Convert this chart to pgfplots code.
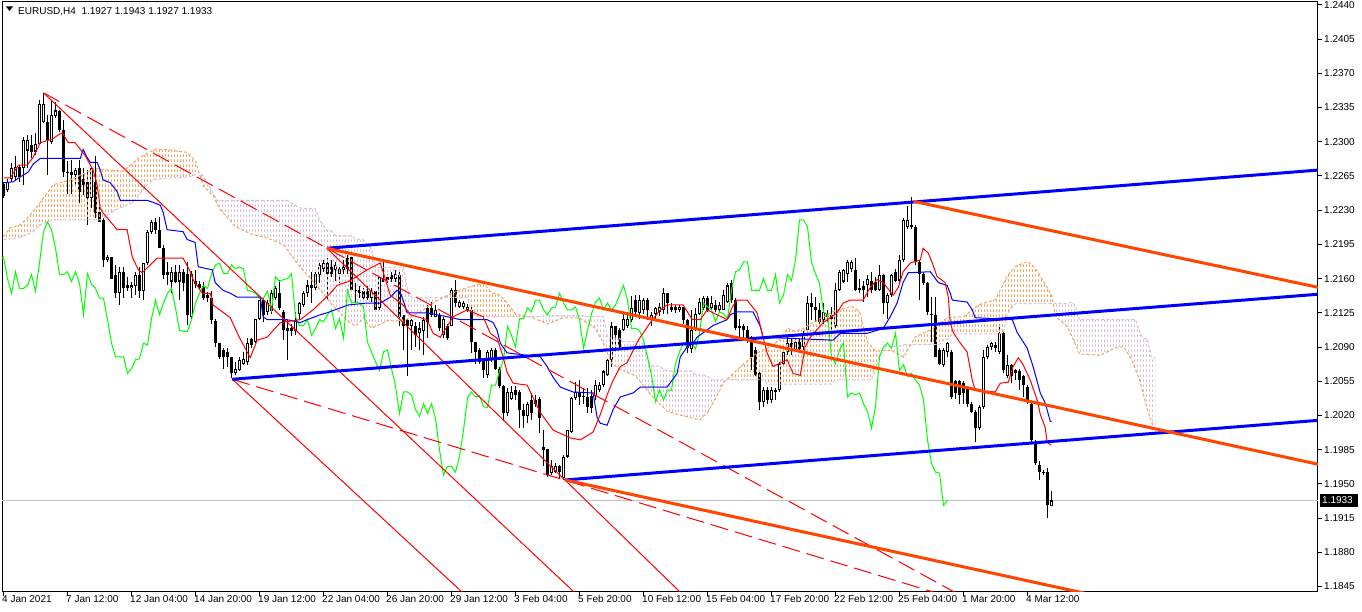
\documentclass[border=0pt]{standalone}
\usepackage{fontspec}
\setmainfont{Liberation Sans}
\usepackage{pgfplots}
\pgfplotsset{compat=1.18}
\usepackage{pgfplotstable}
\usetikzlibrary{patterns.meta}

\definecolor{sandybrown}{RGB}{244,164,96}
\definecolor{thistle}{RGB}{216,191,216}
\definecolor{mtlime}{RGB}{0,255,0}
\definecolor{orangered}{RGB}{255,69,0}
\definecolor{mtred}{RGB}{255,0,0}
\definecolor{mtblue}{RGB}{0,0,255}
\definecolor{bidgray}{RGB}{192,192,192}

\pgfdeclarepattern{
  name=mthatch,
  type=uncolored,
  bottom left={\pgfpoint{0pt}{0pt}},
  top right={\pgfpoint{3pt}{5pt}},
  tile size={\pgfpoint{3pt}{5pt}},
  code={
    \pgfsetlinewidth{1pt}
    \pgfpathmoveto{\pgfpoint{0.5pt}{0pt}}
    \pgfpathlineto{\pgfpoint{0.5pt}{3pt}}
    \pgfusepath{stroke}
  }
}

\pgfplotstableread{
i O H L C
0 1.2257 1.2259 1.2242 1.2244
1 1.2251 1.2262 1.2249 1.2259
2 1.2262 1.2278 1.2259 1.2273
3 1.2264 1.2285 1.2261 1.2274
4 1.2274 1.2276 1.2259 1.2264
5 1.2273 1.2305 1.2256 1.2302
6 1.2291 1.2307 1.2273 1.2302
7 1.2297 1.2307 1.2283 1.2290
8 1.2290 1.2309 1.2286 1.2298
9 1.2298 1.2343 1.2298 1.2339
10 1.2320 1.2350 1.2319 1.2339
11 1.2320 1.2327 1.2266 1.2302
12 1.2300 1.2343 1.2298 1.2327
13 1.2326 1.2341 1.2324 1.2332
14 1.2331 1.2332 1.2310 1.2312
15 1.2312 1.2322 1.2264 1.2269
16 1.2269 1.2280 1.2247 1.2268
17 1.2269 1.2281 1.2247 1.2266
18 1.2266 1.2273 1.2256 1.2271
19 1.2273 1.2281 1.2237 1.2249
20 1.2262 1.2273 1.2245 1.2256
21 1.2259 1.2271 1.2215 1.2242
22 1.2242 1.2273 1.2232 1.2273
23 1.2259 1.2285 1.2222 1.2227
24 1.2228 1.2239 1.2218 1.2218
25 1.2220 1.2222 1.2172 1.2179
26 1.2179 1.2184 1.2177 1.2182
27 1.2182 1.2182 1.2160 1.2160
28 1.2164 1.2174 1.2140 1.2145
29 1.2145 1.2172 1.2133 1.2167
30 1.2167 1.2172 1.2140 1.2150
31 1.2153 1.2162 1.2147 1.2150
32 1.2150 1.2157 1.2140 1.2153
33 1.2152 1.2167 1.2143 1.2164
34 1.2164 1.2172 1.2140 1.2147
35 1.2147 1.2176 1.2138 1.2176
36 1.2176 1.2210 1.2174 1.2208
37 1.2208 1.2220 1.2206 1.2218
38 1.2218 1.2222 1.2206 1.2210
39 1.2210 1.2223 1.2191 1.2191
40 1.2191 1.2194 1.2160 1.2164
41 1.2167 1.2177 1.2153 1.2164
42 1.2157 1.2172 1.2145 1.2167
43 1.2167 1.2174 1.2155 1.2157
44 1.2157 1.2174 1.2138 1.2167
45 1.2167 1.2170 1.2147 1.2155
46 1.2165 1.2177 1.2113 1.2123
47 1.2121 1.2168 1.2118 1.2165
48 1.2158 1.2169 1.2150 1.2154
49 1.2154 1.2158 1.2148 1.2150
50 1.2152 1.2157 1.2138 1.2140
51 1.2143 1.2146 1.2136 1.2140
52 1.2140 1.2147 1.2114 1.2118
53 1.2117 1.2119 1.2090 1.2094
54 1.2094 1.2094 1.2078 1.2080
55 1.2087 1.2089 1.2068 1.2080
56 1.2085 1.2089 1.2070 1.2080
57 1.2080 1.2080 1.2058 1.2063
58 1.2063 1.2075 1.2061 1.2068
59 1.2066 1.2080 1.2065 1.2077
60 1.2073 1.2085 1.2072 1.2078
61 1.2075 1.2099 1.2072 1.2094
62 1.2098 1.2099 1.2089 1.2092
63 1.2095 1.2119 1.2094 1.2119
64 1.2119 1.2138 1.2118 1.2138
65 1.2138 1.2140 1.2116 1.2123
66 1.2126 1.2138 1.2123 1.2135
67 1.2127 1.2148 1.2124 1.2145
68 1.2140 1.2152 1.2138 1.2150
69 1.2145 1.2159 1.2128 1.2130
70 1.2126 1.2128 1.2097 1.2107
71 1.2109 1.2118 1.2077 1.2106
72 1.2109 1.2114 1.2101 1.2106
73 1.2106 1.2126 1.2102 1.2118
74 1.2124 1.2136 1.2118 1.2135
75 1.2133 1.2147 1.2131 1.2145
76 1.2145 1.2159 1.2141 1.2153
77 1.2153 1.2167 1.2135 1.2150
78 1.2150 1.2169 1.2148 1.2165
79 1.2164 1.2176 1.2155 1.2174
80 1.2170 1.2179 1.2167 1.2176
81 1.2176 1.2181 1.2138 1.2165
82 1.2172 1.2179 1.2162 1.2165
83 1.2169 1.2177 1.2158 1.2174
84 1.2165 1.2174 1.2155 1.2170
85 1.2169 1.2179 1.2165 1.2172
86 1.2181 1.2184 1.2165 1.2170
87 1.2182 1.2184 1.2148 1.2148
88 1.2148 1.2155 1.2135 1.2147
89 1.2148 1.2152 1.2140 1.2145
90 1.2147 1.2150 1.2136 1.2140
91 1.2147 1.2152 1.2138 1.2140
92 1.2140 1.2150 1.2136 1.2147
93 1.2147 1.2148 1.2128 1.2128
94 1.2130 1.2162 1.2128 1.2162
95 1.2160 1.2177 1.2157 1.2157
96 1.2162 1.2165 1.2155 1.2159
97 1.2164 1.2167 1.2157 1.2160
98 1.2160 1.2169 1.2157 1.2165
99 1.2164 1.2167 1.2112 1.2121
100 1.2123 1.2123 1.2087 1.2112
101 1.2118 1.2119 1.2060 1.2112
102 1.2111 1.2119 1.2087 1.2118
103 1.2111 1.2116 1.2090 1.2102
104 1.2104 1.2116 1.2087 1.2109
105 1.2106 1.2121 1.2082 1.2118
106 1.2130 1.2133 1.2099 1.2116
107 1.2130 1.2136 1.2121 1.2123
108 1.2121 1.2133 1.2121 1.2128
109 1.2123 1.2125 1.2106 1.2109
110 1.2102 1.2121 1.2099 1.2119
111 1.2112 1.2114 1.2097 1.2099
112 1.2111 1.2150 1.2111 1.2148
113 1.2148 1.2159 1.2131 1.2135
114 1.2131 1.2138 1.2130 1.2136
115 1.2131 1.2137 1.2129 1.2135
116 1.2128 1.2134 1.2126 1.2131
117 1.2128 1.2133 1.2084 1.2095
118 1.2095 1.2095 1.2073 1.2085
119 1.2087 1.2089 1.2073 1.2075
120 1.2077 1.2078 1.2058 1.2066
121 1.2061 1.2087 1.2058 1.2085
122 1.2077 1.2089 1.2075 1.2087
123 1.2087 1.2089 1.2066 1.2068
124 1.2068 1.2070 1.2048 1.2050
125 1.2050 1.2051 1.2014 1.2022
126 1.2022 1.2048 1.2019 1.2044
127 1.2037 1.2050 1.2036 1.2044
128 1.2046 1.2050 1.2036 1.2041
129 1.2044 1.2046 1.2007 1.2026
130 1.2026 1.2032 1.2007 1.2019
131 1.2019 1.2034 1.2012 1.2032
132 1.2036 1.2043 1.2015 1.2022
133 1.2036 1.2041 1.2029 1.2032
134 1.2037 1.2039 1.2002 1.2017
135 1.1988 1.2005 1.1968 1.1985
136 1.1986 1.1986 1.1957 1.1959
137 1.1961 1.1974 1.1959 1.1968
138 1.1962 1.1971 1.1961 1.1968
139 1.1968 1.1969 1.1956 1.1962
140 1.1956 1.1980 1.1954 1.1978
141 1.1978 1.2005 1.1976 1.2005
142 1.2003 1.2039 1.2002 1.2038
143 1.2038 1.2054 1.2036 1.2044
144 1.2044 1.2056 1.2031 1.2039
145 1.2039 1.2048 1.2032 1.2040
146 1.2039 1.2048 1.2022 1.2029
147 1.2040 1.2046 1.2023 1.2028
148 1.2040 1.2056 1.2036 1.2051
149 1.2046 1.2054 1.2044 1.2051
150 1.2051 1.2066 1.2049 1.2065
151 1.2061 1.2078 1.2060 1.2077
152 1.2077 1.2116 1.2070 1.2111
153 1.2111 1.2112 1.2089 1.2102
154 1.2107 1.2109 1.2088 1.2090
155 1.2107 1.2124 1.2106 1.2119
156 1.2111 1.2126 1.2109 1.2119
157 1.2118 1.2142 1.2116 1.2130
158 1.2138 1.2143 1.2123 1.2126
159 1.2125 1.2143 1.2119 1.2138
160 1.2128 1.2140 1.2124 1.2138
161 1.2138 1.2140 1.2118 1.2128
162 1.2118 1.2126 1.2112 1.2123
163 1.2124 1.2131 1.2118 1.2130
164 1.2126 1.2135 1.2122 1.2131
165 1.2128 1.2150 1.2124 1.2145
166 1.2145 1.2145 1.2124 1.2135
167 1.2131 1.2135 1.2126 1.2128
168 1.2131 1.2133 1.2125 1.2128
169 1.2128 1.2133 1.2126 1.2131
170 1.2131 1.2131 1.2114 1.2118
171 1.2118 1.2119 1.2084 1.2089
172 1.2088 1.2128 1.2084 1.2107
173 1.2107 1.2130 1.2106 1.2124
174 1.2124 1.2140 1.2123 1.2136
175 1.2130 1.2142 1.2128 1.2140
176 1.2140 1.2142 1.2126 1.2128
177 1.2130 1.2142 1.2128 1.2135
178 1.2133 1.2138 1.2126 1.2128
179 1.2128 1.2136 1.2125 1.2133
180 1.2128 1.2148 1.2128 1.2143
181 1.2136 1.2155 1.2135 1.2153
182 1.2155 1.2159 1.2135 1.2138
183 1.2138 1.2140 1.2107 1.2109
184 1.2111 1.2119 1.2097 1.2109
185 1.2111 1.2114 1.2097 1.2107
186 1.2107 1.2111 1.2094 1.2097
187 1.2097 1.2101 1.2066 1.2080
188 1.2087 1.2090 1.2060 1.2061
189 1.2063 1.2066 1.2026 1.2034
190 1.2034 1.2049 1.2029 1.2046
191 1.2046 1.2049 1.2032 1.2036
192 1.2036 1.2049 1.2033 1.2046
193 1.2044 1.2048 1.2036 1.2046
194 1.2046 1.2075 1.2044 1.2073
195 1.2073 1.2087 1.2070 1.2085
196 1.2085 1.2100 1.2082 1.2094
197 1.2094 1.2099 1.2082 1.2090
198 1.2087 1.2099 1.2085 1.2095
199 1.2095 1.2098 1.2084 1.2088
200 1.2090 1.2106 1.2087 1.2104
201 1.2107 1.2142 1.2105 1.2135
202 1.2135 1.2145 1.2118 1.2131
203 1.2131 1.2141 1.2116 1.2128
204 1.2128 1.2135 1.2114 1.2116
205 1.2118 1.2135 1.2114 1.2126
206 1.2121 1.2128 1.2116 1.2124
207 1.2123 1.2131 1.2107 1.2119
208 1.2111 1.2155 1.2109 1.2148
209 1.2148 1.2169 1.2147 1.2167
210 1.2157 1.2170 1.2155 1.2169
211 1.2165 1.2179 1.2157 1.2177
212 1.2170 1.2179 1.2167 1.2177
213 1.2169 1.2181 1.2147 1.2148
214 1.2150 1.2160 1.2145 1.2148
215 1.2152 1.2158 1.2136 1.2148
216 1.2153 1.2164 1.2141 1.2160
217 1.2158 1.2167 1.2145 1.2148
218 1.2157 1.2162 1.2147 1.2148
219 1.2148 1.2174 1.2147 1.2164
220 1.2164 1.2165 1.2124 1.2135
221 1.2135 1.2145 1.2119 1.2143
222 1.2143 1.2165 1.2141 1.2164
223 1.2167 1.2170 1.2157 1.2158
224 1.2158 1.2184 1.2157 1.2179
225 1.2179 1.2222 1.2177 1.2220
226 1.2213 1.2234 1.2211 1.2220
227 1.2215 1.2243 1.2211 1.2213
228 1.2213 1.2215 1.2174 1.2177
229 1.2177 1.2179 1.2138 1.2165
230 1.2165 1.2167 1.2153 1.2155
231 1.2155 1.2157 1.2123 1.2126
232 1.2124 1.2141 1.2095 1.2123
233 1.2123 1.2141 1.2080 1.2080
234 1.2087 1.2089 1.2072 1.2073
235 1.2072 1.2089 1.2070 1.2087
236 1.2085 1.2095 1.2080 1.2094
237 1.2085 1.2087 1.2037 1.2039
238 1.2055 1.2056 1.2037 1.2043
239 1.2055 1.2056 1.2032 1.2041
240 1.2053 1.2055 1.2032 1.2043
241 1.2048 1.2049 1.2029 1.2032
242 1.2032 1.2034 1.2022 1.2024
243 1.2024 1.2026 1.1993 1.2007
244 1.2007 1.2031 1.2005 1.2029
245 1.2029 1.2087 1.2027 1.2080
246 1.2080 1.2092 1.2078 1.2090
247 1.2090 1.2095 1.2087 1.2094
248 1.2092 1.2095 1.2085 1.2089
249 1.2085 1.2114 1.2083 1.2104
250 1.2104 1.2106 1.2063 1.2066
251 1.2060 1.2082 1.2058 1.2072
252 1.2072 1.2073 1.2053 1.2060
253 1.2066 1.2068 1.2056 1.2063
254 1.2065 1.2068 1.2046 1.2056
255 1.2060 1.2061 1.2039 1.2051
256 1.2049 1.2051 1.2032 1.2036
257 1.2032 1.2034 1.1993 1.1995
258 1.1993 1.1995 1.1969 1.1971
259 1.1969 1.1973 1.1954 1.1962
260 1.1962 1.1964 1.1959 1.1961
261 1.1962 1.1966 1.1915 1.1928
262 1.1927 1.1943 1.1927 1.1933
}\candles

\begin{document}
\begin{tikzpicture}[x=1pt,y=1pt]
\useasboundingbox (-2,-20) rectangle (1360,592);
\begin{axis}[
  at={(0,0)}, anchor=south west,
  scale only axis, width=1316pt, height=590pt,
  xmin=-0.375, xmax=328.625, ymin=1.18394, ymax=1.244295,
  axis line style={black, line width=1pt},
  tick align=outside, major tick length=4pt,
  tick style={black, line width=1pt},
  xtick pos=left, ytick pos=right, yticklabel pos=right,
  xtick={0,16,32,48,64,80,96,112,128,144,160,176,192,208,224,240,256},
  xticklabels={4 Jan 2021,7 Jan 12:00,12 Jan 04:00,14 Jan 20:00,19 Jan 12:00,22 Jan 04:00,26 Jan 20:00,29 Jan 12:00,3 Feb 04:00,5 Feb 20:00,10 Feb 12:00,15 Feb 04:00,17 Feb 20:00,22 Feb 12:00,25 Feb 04:00,1 Mar 20:00,4 Mar 12:00},
  ytick={1.1845,1.1880,1.1915,1.1950,1.1985,1.2020,1.2055,1.2090,1.2125,1.2160,1.2195,1.2230,1.2265,1.2300,1.2335,1.2370,1.2405,1.2440},
  yticklabels={1.1845,1.1880,1.1915,1.1950,1.1985,1.2020,1.2055,1.2090,1.2125,1.2160,1.2195,1.2230,1.2265,1.2300,1.2335,1.2370,1.2405,1.2440},
  ticklabel style={font=\fontsize{10}{12}\selectfont, text=black, inner sep=0pt},
  xticklabel style={anchor=north west, xshift=-1.5pt, yshift=1pt},
  yticklabel style={anchor=west, xshift=2pt},
  clip=true,
]
% bid line
\addplot[bidgray, line width=1pt, forget plot] coordinates {(-1,1.1933) (330,1.1933)};

% candle wicks
\addplot[draw=none, mark=none, forget plot,
  error bars/.cd, y dir=plus, y explicit, error mark=none,
  error bar style={draw=black, line width=1pt}]
  table[x=i, y=L, y error expr={\thisrow{H}-\thisrow{L}}] {\candles};
% candle bodies (black)
\addplot[draw=none, mark=none, forget plot,
  error bars/.cd, y dir=plus, y explicit, error mark=none,
  error bar style={draw=black, line width=3pt}]
  table[x=i, y expr={min(\thisrow{O},\thisrow{C})}, y error expr={max(abs(\thisrow{C}-\thisrow{O}),0.0001)}] {\candles};
% white interior of bullish bodies
\addplot[draw=none, mark=none, forget plot,
  error bars/.cd, y dir=plus, y explicit, error mark=none,
  error bar style={draw=white, line width=1pt}]
  table[x=i, y expr={\thisrow{O}+0.00011}, y error expr={max(\thisrow{C}-\thisrow{O}-0.00022,0)}] {\candles};

% Ichimoku cloud hatch (regions between Senkou span A and span B)
\addplot[draw=none, pattern=mthatch, pattern color=sandybrown, forget plot] coordinates {
(0,1.2203) (1.7,1.2212) (4.2,1.2215) (6.7,1.2225) (9.2,1.2238) (12.4,1.2256) (16.7,1.2261) (22.9,1.2273) (26,1.2271) (30,1.2270) (34,1.2284) (38,1.22925) (42,1.22915) (46,1.2289) (48,1.2280) (48.9,1.2268) (46.7,1.2264) (40.9,1.2263) (37.4,1.2261) (35.9,1.2256) (32.4,1.2238) (27.9,1.2230) (24.2,1.2220) (12.4,1.2220) (9.2,1.2215) (7.4,1.2208) (4.2,1.2202) (0,1.2200)} -- cycle;
\addplot[draw=none, pattern=mthatch, pattern color=thistle, forget plot] coordinates {
(48.9,1.2268) (50,1.22545) (52.4,1.2245) (54,1.22315) (58,1.2213) (62,1.22055) (66,1.22015) (70,1.21945) (74,1.21725) (78,1.21545) (82,1.2134) (86,1.21165) (88,1.21115) (90,1.21195) (92,1.2109) (96,1.2117) (100,1.21165) (104,1.21255) (108,1.21365) (109.9,1.21405) (102,1.21405) (101,1.21485) (100,1.21715) (93,1.21715) (92,1.2190) (91,1.2195) (90,1.21995) (88,1.22005) (87,1.2204) (83,1.2204) (82,1.2209) (81,1.2209) (80,1.2214) (79,1.2220) (78,1.22315) (74.2,1.2232) (70.9,1.2240) (53.4,1.2240) (50.9,1.2259) (49.2,1.2269)} -- cycle;
\addplot[draw=none, pattern=mthatch, pattern color=sandybrown, forget plot] coordinates {
(109.9,1.21405) (112,1.2145) (116,1.2151) (120,1.21555) (122,1.21455) (124,1.2143) (126,1.2135) (128,1.21235) (131.3,1.2121) (118,1.2121) (117,1.2126) (116,1.21405)} -- cycle;
\addplot[draw=none, pattern=mthatch, pattern color=thistle, forget plot] coordinates {
(131.3,1.2121) (132,1.21205) (136,1.21135) (140,1.2120) (144,1.21195) (148,1.2109) (150,1.20935) (152,1.20735) (154,1.20675) (158,1.20605) (162,1.20405) (166,1.2024) (170,1.20195) (174,1.20155) (176,1.2023) (178,1.2037) (180,1.20535) (180.8,1.20565) (177,1.20565) (176,1.20605) (175,1.20615) (173,1.20615) (172,1.20655) (166,1.20655) (165,1.2067) (164,1.20705) (162,1.20705) (161,1.2076) (160,1.2093) (159,1.20955) (155,1.20955) (154,1.2099) (151,1.2099) (150,1.2121) (146,1.2121) (145,1.2122) (135,1.2122) (134,1.2121)} -- cycle;
\addplot[draw=none, pattern=mthatch, pattern color=sandybrown, forget plot] coordinates {
(180.8,1.20565) (184,1.2069) (188,1.2083) (192,1.2091) (194,1.20975) (196,1.2109) (198,1.2106) (200,1.2109) (204,1.2119) (208,1.21275) (212,1.21315) (214,1.21265) (216,1.2095) (218,1.2086) (219.55,1.2086) (219,1.20805) (218,1.20675) (217,1.20565) (208,1.20565) (207,1.2052) (191,1.2052) (190,1.20565)} -- cycle;
\addplot[draw=none, pattern=mthatch, pattern color=thistle, forget plot] coordinates {
(219.55,1.2086) (222,1.20865) (225,1.20795) (226.86,1.20925) (225,1.20925) (224,1.2091) (220,1.20905)} -- cycle;
\addplot[draw=none, pattern=mthatch, pattern color=sandybrown, forget plot] coordinates {
(226.86,1.20925) (228,1.21005) (232,1.2108) (236,1.2120) (240,1.2121) (244,1.21335) (248,1.21385) (251,1.2163) (253,1.21725) (256,1.21775) (258,1.21705) (260,1.21575) (262,1.2143) (262.4,1.21345) (253,1.21345) (252,1.2130) (251,1.2124) (250,1.2105) (249,1.21035) (239,1.21035) (238,1.21025) (237,1.21025) (236,1.2098) (235,1.20975) (234,1.20925)} -- cycle;
\addplot[draw=none, pattern=mthatch, pattern color=thistle, forget plot] coordinates {
(262.4,1.21345) (263,1.21215) (266,1.21105) (269,1.2083) (274,1.20815) (278,1.2089) (280,1.20905) (282,1.20775) (284,1.20565) (286,1.20255) (288,1.2002) (288,1.2079) (287,1.2079) (286,1.20985) (285,1.20985) (284,1.2106) (283,1.2118) (269,1.2118) (268,1.21325) (267,1.2136) (266,1.21345)} -- cycle;

% Senkou span A and span B lines
\addplot[sandybrown, line width=1pt, dash pattern=on 3pt off 2pt, forget plot] coordinates {
(0,1.2203) (1.7,1.2212) (4.2,1.2215) (6.7,1.2225) (9.2,1.2238) (12.4,1.2256) (16.7,1.2261) (22.9,1.2273) (26,1.2271) (30,1.2270) (34,1.2284) (38,1.22925) (42,1.22915) (46,1.2289) (48,1.2280) (50,1.22545) (52.4,1.2245) (54,1.22315) (58,1.2213) (62,1.22055) (66,1.22015) (70,1.21945) (74,1.21725) (78,1.21545) (82,1.2134) (86,1.21165) (88,1.21115) (90,1.21195) (92,1.2109) (96,1.2117) (100,1.21165) (104,1.21255) (108,1.21365) (112,1.2145) (116,1.2151) (120,1.21555) (122,1.21455) (124,1.2143) (126,1.2135) (128,1.21235) (132,1.21205) (136,1.21135) (140,1.2120) (144,1.21195) (148,1.2109) (150,1.20935) (152,1.20735) (154,1.20675) (158,1.20605) (162,1.20405) (166,1.2024) (170,1.20195) (174,1.20155) (176,1.2023) (178,1.2037) (180,1.20535) (184,1.2069) (188,1.2083) (192,1.2091) (194,1.20975) (196,1.2109) (198,1.2106) (200,1.2109) (204,1.2119) (208,1.21275) (212,1.21315) (214,1.21265) (216,1.2095) (218,1.2086) (222,1.20865) (225,1.20795) (228,1.21005) (232,1.2108) (236,1.2120) (240,1.2121) (244,1.21335) (248,1.21385) (251,1.2163) (253,1.21725) (256,1.21775) (258,1.21705) (260,1.21575) (262,1.2143) (263,1.21215) (266,1.21105) (269,1.2083) (274,1.20815) (278,1.2089) (280,1.20905) (282,1.20775) (284,1.20565) (286,1.20255) (288,1.2002)};
\addplot[thistle, line width=1pt, dash pattern=on 3pt off 2pt, forget plot] coordinates {
(0,1.2200) (4.2,1.2202) (7.4,1.2208) (9.2,1.2215) (12.4,1.2220) (24.2,1.2220) (27.9,1.2230) (32.4,1.2238) (35.9,1.2256) (37.4,1.2261) (40.9,1.2263) (46.7,1.2264) (49.2,1.2269) (50.9,1.2259) (53.4,1.2240) (70.9,1.2240) (74.2,1.2232) (78,1.22315) (79,1.2220) (80,1.2214) (81,1.2209) (82,1.2209) (83,1.2204) (87,1.2204) (88,1.22005) (90,1.21995) (91,1.2195) (92,1.2190) (93,1.21715) (100,1.21715) (101,1.21485) (102,1.21405) (116,1.21405) (117,1.2126) (118,1.2121) (134,1.2121) (135,1.2122) (145,1.2122) (146,1.2121) (150,1.2121) (151,1.2099) (154,1.2099) (155,1.20955) (159,1.20955) (160,1.2093) (161,1.2076) (162,1.20705) (164,1.20705) (165,1.2067) (166,1.20655) (172,1.20655) (173,1.20615) (175,1.20615) (176,1.20605) (177,1.20565) (190,1.20565) (191,1.2052) (207,1.2052) (208,1.20565) (217,1.20565) (218,1.20675) (219,1.20805) (220,1.20905) (224,1.2091) (225,1.20925) (234,1.20925) (235,1.20975) (236,1.2098) (237,1.21025) (238,1.21025) (239,1.21035) (249,1.21035) (250,1.2105) (251,1.2124) (252,1.2130) (253,1.21345) (266,1.21345) (267,1.2136) (268,1.21325) (269,1.2118) (283,1.2118) (284,1.2106) (285,1.20985) (286,1.20985) (287,1.2079) (288,1.2079)};

% Chikou span: close shifted back 26 bars
\addplot[mtlime, line width=1pt, forget plot] table[x expr={\thisrow{i}-26}, y=C] {\candles};

% Kijun-sen
\addplot[mtblue, line width=1pt, forget plot] coordinates {
(0,1.2258) (2.4,1.2259) (4.2,1.2264) (6.2,1.2269) (7.4,1.2277) (9.2,1.2283) (19.2,1.2283) (19.9,1.2292) (20.9,1.2284) (21.7,1.2279) (23.4,1.2279) (24.2,1.2271) (24.9,1.2261) (26.7,1.2258) (28.4,1.2249) (29.2,1.2240) (35.9,1.2240) (37.4,1.2238) (39.2,1.2235) (39.9,1.2228) (40.9,1.2210) (44.9,1.2208) (45.9,1.2200) (47.9,1.2197) (48.7,1.2172) (52.2,1.2169) (52.9,1.2156) (54.9,1.2148) (56.7,1.2145) (58.4,1.2141) (64.2,1.2141) (64.9,1.2121) (65.9,1.2118) (70.9,1.2118) (74.2,1.2115) (75.9,1.2118) (79.2,1.2123) (80.9,1.2125) (84.2,1.2130) (86.2,1.2133) (90.9,1.2135) (94.2,1.2135) (96.7,1.2141) (98.4,1.2148) (99.2,1.2146) (99.9,1.2138) (100.9,1.2125) (105.9,1.2125) (110.9,1.2121) (114.2,1.2118) (120.9,1.2118) (122.4,1.2115) (123.4,1.2107) (124.2,1.2094) (125.9,1.2084) (134.2,1.2080) (135.9,1.2070) (137.4,1.2059) (139.2,1.2049) (142.4,1.2044) (147.4,1.2043) (148.4,1.2018) (149.2,1.2012) (150.9,1.2010) (152.4,1.2026) (154.2,1.2039) (157.4,1.2043) (159.2,1.2049) (165.9,1.2049) (168.4,1.2063) (169.2,1.2080) (170.9,1.2090) (172.4,1.2094) (173.4,1.2100) (177.4,1.2112) (180.9,1.2118) (181.7,1.2123) (183.4,1.2126) (187.4,1.2126) (189.2,1.2111) (189.9,1.2100) (195.9,1.2099) (207.4,1.2097) (209.2,1.2104) (215.9,1.2104) (219.9,1.2109) (221.7,1.2121) (223.4,1.2135) (224.9,1.2156) (226.2,1.2166) (231.7,1.2167) (233.7,1.2156) (235.9,1.2153) (236.7,1.2145) (237.2,1.2138) (240.9,1.2136) (242.2,1.2128) (242.9,1.2120) (252.2,1.2118) (253.4,1.2105) (255.9,1.2089) (257.4,1.2070) (259.2,1.2043) (260.4,1.2033) (261.7,1.2014) (262,1.2014)};

% Tenkan-sen
\addplot[mtred, line width=1pt, forget plot] coordinates {
(0,1.2263) (1.7,1.2263) (3.7,1.2276) (5.9,1.2276) (7.4,1.2284) (9.2,1.2299) (12.4,1.2303) (13.7,1.2307) (14.7,1.2309) (16.2,1.2299) (17.9,1.2299) (20.4,1.2286) (22.4,1.2271) (23.4,1.2256) (24.2,1.2232) (24.9,1.2227) (27.4,1.2215) (28.4,1.2210) (30.9,1.2210) (32.2,1.2182) (33.7,1.2169) (34.7,1.2166) (37.4,1.2177) (38.4,1.2181) (44.9,1.2181) (46.7,1.2167) (47.4,1.2159) (49.7,1.2145) (51.7,1.2145) (52.4,1.2133) (56.7,1.2120) (58.7,1.2102) (60.9,1.2085) (61.7,1.2079) (63.4,1.2097) (65.9,1.2100) (69.2,1.2115) (74.2,1.2118) (77.4,1.2128) (81.7,1.2145) (83.4,1.2153) (86.2,1.2157) (87.9,1.2161) (90.9,1.2169) (94.2,1.2176) (96.7,1.2143) (99.9,1.2133) (101.7,1.2123) (105.9,1.2118) (107.4,1.2104) (109.2,1.2100) (110.9,1.2111) (112.4,1.2121) (115.9,1.2128) (119.9,1.2121) (121.7,1.2104) (123.4,1.2099) (124.9,1.2080) (125.9,1.2064) (127.4,1.2053) (130.9,1.2051) (134.2,1.2023) (137.4,1.2005) (141.7,1.1997) (144.2,1.1995) (147.4,1.2003) (149.2,1.2021) (150.9,1.2041) (152.4,1.2056) (154.2,1.2070) (155.9,1.2074) (158.7,1.2097) (161.7,1.2115) (164.2,1.2128) (165.9,1.2133) (169.9,1.2133) (172.2,1.2118) (174.2,1.2118) (175.9,1.2128) (180.9,1.2118) (182.2,1.2131) (183.4,1.2138) (185.9,1.2138) (188.4,1.2125) (189.9,1.2100) (190.9,1.2084) (192.4,1.2070) (195.9,1.2077) (197.4,1.2063) (199.2,1.2061) (200.4,1.2090) (201.7,1.2100) (204.9,1.2115) (208.4,1.2125) (209.9,1.2135) (211.7,1.2138) (214.9,1.2138) (216.7,1.2151) (218.4,1.2159) (219.9,1.2156) (222.4,1.2143) (223.7,1.2151) (224.9,1.2167) (226.7,1.2176) (229.2,1.2179) (229.9,1.2191) (231.2,1.2186) (232.2,1.2176) (233.4,1.2162) (235.4,1.2156) (236.2,1.2141) (236.7,1.2115) (237.4,1.2105) (239.2,1.2094) (240.9,1.2085) (242.2,1.2056) (242.9,1.2046) (247.9,1.2044) (249.2,1.2053) (251.2,1.2054) (252.4,1.2070) (253.7,1.2079) (254.9,1.2072) (256.7,1.2056) (258.4,1.2036) (259.2,1.2021) (260.4,1.2008) (260.9,1.1993) (261.7,1.1990) (262,1.1990)};

% thin red trend lines
\addplot[mtred, line width=1pt, forget plot] coordinates {(10,1.2350) (150,1.1811)};
\addplot[mtred, line width=1pt, dash pattern=on 18pt off 7pt, forget plot] coordinates {(10,1.2350) (245,1.1823)};
\addplot[mtred, line width=1pt, forget plot] coordinates {(57.2,1.2057) (120,1.1819)};
\addplot[mtred, line width=1pt, dash pattern=on 18pt off 7pt, forget plot] coordinates {(57.2,1.2057) (240,1.1830)};
\addplot[mtred, line width=1pt, forget plot] coordinates {(80.85,1.2191) (175,1.1816)};

% thick channel lines
\addplot[mtblue, line width=3pt, forget plot] coordinates {(80.85,1.2191) (328.7,1.2271)};
\addplot[mtblue, line width=3pt, forget plot] coordinates {(57.2,1.2057) (328.7,1.2144)};
\addplot[mtblue, line width=3pt, forget plot] coordinates {(140.4,1.1954) (328.7,1.2015)};
\addplot[orangered, line width=3pt, forget plot] coordinates {(80.85,1.2191) (328.7,1.1970)};
\addplot[orangered, line width=3pt, forget plot] coordinates {(227.5,1.2239) (328.7,1.2151)};
\addplot[orangered, line width=3pt, forget plot] coordinates {(140.4,1.1954) (328.7,1.1786)};

\coordinate (bid) at (axis cs:328.625,1.1933);
\end{axis}
% header
\fill[black] (4,585.5) -- (11,585.5) -- (7.5,581) -- cycle;
\node[anchor=base west, inner sep=0pt, font=\fontsize{10}{12}\selectfont] at (16,577) {EURUSD,H4\ \ 1.1927 1.1943 1.1927 1.1933};
% current price tag
\fill[black] (bid) ++(2,-6.5) rectangle ++(38,13);
\node[anchor=west, inner sep=0pt, text=white, font=\fontsize{10}{12}\selectfont] at ([xshift=4pt]bid) {1.1933};
\end{tikzpicture}
\end{document}
